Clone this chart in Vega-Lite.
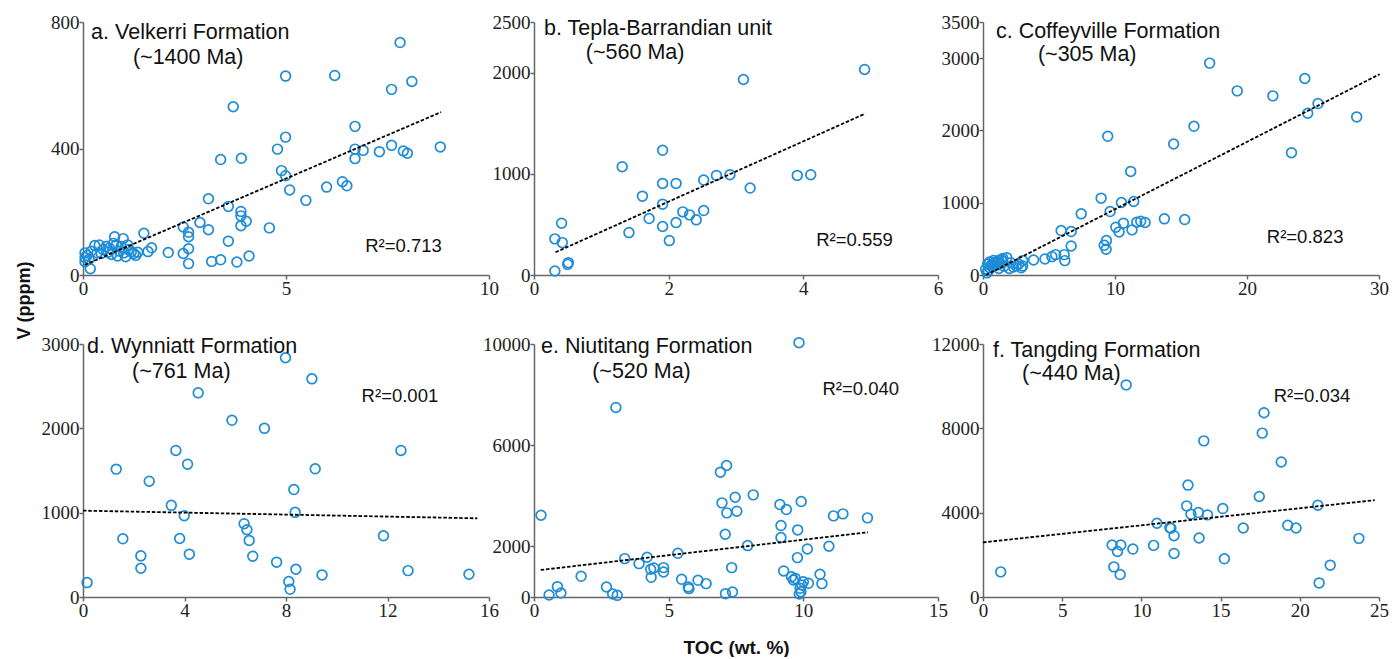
{
  "$schema": "https://vega.github.io/schema/vega-lite/v6.json",
  "padding": {"left": 15, "top": 13, "right": 0, "bottom": 0},
  "background": "white",
  "datasets": {
    "a": [
      {"TOC":7.81,"V":735},{"TOC":4.99,"V":629},{"TOC":6.2,"V":631},{"TOC":7.6,"V":587},{"TOC":8.1,"V":612},{"TOC":3.7,"V":532},{"TOC":6.7,"V":470},{"TOC":4.99,"V":436},{"TOC":4.79,"V":398},{"TOC":3.39,"V":365},{"TOC":3.9,"V":369},{"TOC":6.7,"V":398},{"TOC":6.9,"V":394},{"TOC":7.3,"V":390},{"TOC":7.6,"V":410},{"TOC":7.89,"V":392},{"TOC":7.99,"V":385},{"TOC":8.8,"V":405},{"TOC":6.7,"V":368},{"TOC":4.89,"V":330},{"TOC":4.99,"V":314},{"TOC":5.09,"V":269},{"TOC":6.0,"V":278},{"TOC":6.39,"V":295},{"TOC":6.5,"V":282},{"TOC":5.49,"V":236},{"TOC":3.09,"V":241},{"TOC":3.58,"V":217},{"TOC":3.89,"V":201},{"TOC":3.89,"V":187},{"TOC":4.02,"V":170},{"TOC":3.89,"V":156},{"TOC":2.88,"V":166},{"TOC":2.47,"V":152},{"TOC":3.09,"V":143},{"TOC":2.6,"V":135},{"TOC":2.6,"V":121},{"TOC":4.59,"V":149},{"TOC":3.58,"V":107},{"TOC":2.6,"V":83},{"TOC":2.47,"V":68},{"TOC":2.6,"V":36},{"TOC":3.17,"V":43},{"TOC":3.39,"V":48},{"TOC":3.79,"V":41},{"TOC":4.09,"V":60},{"TOC":2.1,"V":71},{"TOC":1.5,"V":132},{"TOC":1.69,"V":86},
      {"TOC":0.78,"V":121},{"TOC":0.99,"V":115},{"TOC":0.18,"V":20},{"TOC":0.29,"V":93},{"TOC":0.05,"V":70},{"TOC":0.05,"V":55},{"TOC":0.05,"V":42},{"TOC":0.1,"V":62},{"TOC":0.15,"V":50},{"TOC":0.2,"V":75},{"TOC":0.35,"V":70},{"TOC":0.45,"V":68},{"TOC":0.5,"V":80},{"TOC":0.57,"V":90},{"TOC":0.62,"V":72},{"TOC":0.7,"V":65},{"TOC":0.75,"V":100},{"TOC":0.82,"V":95},{"TOC":0.85,"V":60},{"TOC":0.9,"V":75},{"TOC":0.94,"V":90},{"TOC":1.0,"V":70},{"TOC":1.05,"V":58},{"TOC":1.12,"V":80},{"TOC":1.19,"V":74},{"TOC":1.25,"V":68},{"TOC":1.3,"V":62},{"TOC":1.35,"V":72},{"TOC":0.4,"V":95},{"TOC":0.65,"V":85},{"TOC":1.1,"V":95},{"TOC":1.6,"V":74}
    ],
    "fa": [{"TOC":0.04,"V":32},{"TOC":8.82,"V":515}],
    "b": [
      {"TOC":4.91,"V":2031},{"TOC":3.11,"V":1932},{"TOC":1.91,"V":1232},{"TOC":1.31,"V":1070},{"TOC":1.91,"V":905},{"TOC":2.11,"V":905},{"TOC":2.52,"V":938},{"TOC":2.71,"V":984},{"TOC":2.91,"V":991},{"TOC":3.91,"V":984},{"TOC":4.11,"V":991},{"TOC":3.21,"V":859},{"TOC":1.61,"V":779},{"TOC":1.91,"V":700},{"TOC":2.21,"V":624},{"TOC":2.31,"V":594},{"TOC":2.41,"V":545},{"TOC":2.52,"V":637},{"TOC":1.71,"V":558},{"TOC":2.11,"V":518},{"TOC":1.91,"V":479},{"TOC":1.41,"V":419},{"TOC":2.01,"V":340},{"TOC":0.41,"V":512},{"TOC":0.31,"V":357},{"TOC":0.42,"V":320},{"TOC":0.51,"V":122},{"TOC":0.5,"V":105},{"TOC":0.31,"V":40}
    ],
    "fb": [{"TOC":0.32,"V":225},{"TOC":4.92,"V":1595}],
    "c": [
      {"TOC":17.17,"V":2931},{"TOC":24.38,"V":2718},{"TOC":19.26,"V":2547},{"TOC":21.96,"V":2478},{"TOC":25.38,"V":2372},{"TOC":24.6,"V":2238},{"TOC":28.31,"V":2187},{"TOC":15.98,"V":2057},{"TOC":9.45,"V":1919},{"TOC":14.44,"V":1812},{"TOC":23.37,"V":1692},{"TOC":11.19,"V":1433},{"TOC":8.95,"V":1063},{"TOC":10.49,"V":1003},{"TOC":11.42,"V":1017},{"TOC":7.44,"V":846},{"TOC":9.63,"V":878},{"TOC":13.74,"V":777},{"TOC":15.28,"V":767},{"TOC":11.95,"V":744},{"TOC":12.28,"V":726},{"TOC":11.65,"V":730},{"TOC":10.64,"V":717},{"TOC":10.06,"V":661},{"TOC":10.31,"V":596},{"TOC":11.29,"V":624},{"TOC":5.92,"V":615},{"TOC":6.68,"V":601},{"TOC":6.68,"V":402},{"TOC":9.35,"V":476},{"TOC":9.18,"V":411},{"TOC":9.33,"V":356},{"TOC":6.15,"V":282},{"TOC":6.2,"V":199},{"TOC":5.5,"V":282},{"TOC":5.22,"V":254},{"TOC":4.69,"V":222},{"TOC":3.83,"V":208},{"TOC":3.0,"V":199},{"TOC":3.0,"V":125},
      {"TOC":0.3,"V":30},{"TOC":0.4,"V":60},{"TOC":0.5,"V":100},{"TOC":0.6,"V":130},{"TOC":0.7,"V":150},{"TOC":0.8,"V":120},{"TOC":0.9,"V":170},{"TOC":1.0,"V":180},{"TOC":1.1,"V":140},{"TOC":1.2,"V":200},{"TOC":1.3,"V":160},{"TOC":1.4,"V":210},{"TOC":1.5,"V":190},{"TOC":1.6,"V":120},{"TOC":1.8,"V":240},{"TOC":2.0,"V":90},{"TOC":2.1,"V":170},{"TOC":2.3,"V":110},{"TOC":2.5,"V":130},{"TOC":2.7,"V":150},{"TOC":2.9,"V":100},{"TOC":0.5,"V":180},{"TOC":0.8,"V":200},{"TOC":1.2,"V":90},{"TOC":0.35,"V":149},{"TOC":0.2,"V":80},{"TOC":1.5,"V":230}
    ],
    "fc": [{"TOC":0.23,"V":0},{"TOC":30.05,"V":2778}],
    "d": [
      {"TOC":7.98,"V":2837},{"TOC":9.02,"V":2587},{"TOC":4.54,"V":2421},{"TOC":5.87,"V":2095},{"TOC":7.15,"V":2000},{"TOC":3.66,"V":1738},{"TOC":12.53,"V":1738},{"TOC":1.31,"V":1516},{"TOC":9.15,"V":1520},{"TOC":4.12,"V":1575},{"TOC":2.61,"V":1373},{"TOC":8.31,"V":1274},{"TOC":3.48,"V":1087},{"TOC":8.36,"V":1004},{"TOC":3.99,"V":964},{"TOC":6.35,"V":869},{"TOC":6.46,"V":798},{"TOC":6.55,"V":671},{"TOC":1.57,"V":690},{"TOC":3.81,"V":694},{"TOC":11.84,"V":726},{"TOC":2.28,"V":488},{"TOC":4.19,"V":508},{"TOC":6.69,"V":484},{"TOC":7.63,"V":413},{"TOC":2.28,"V":341},{"TOC":8.39,"V":329},{"TOC":12.81,"V":313},{"TOC":9.42,"V":262},{"TOC":15.21,"V":270},{"TOC":8.11,"V":183},{"TOC":8.16,"V":91},{"TOC":0.16,"V":171}
    ],
    "fd": [{"TOC":0,"V":1024},{"TOC":15.54,"V":933}],
    "e": [
      {"TOC":9.84,"V":10053},{"TOC":3.04,"V":7493},{"TOC":7.15,"V":5198},{"TOC":6.92,"V":4934},{"TOC":8.14,"V":4037},{"TOC":7.47,"V":3945},{"TOC":6.98,"V":3720},{"TOC":9.92,"V":3773},{"TOC":9.13,"V":3654},{"TOC":9.37,"V":3456},{"TOC":7.53,"V":3391},{"TOC":7.16,"V":3325},{"TOC":11.47,"V":3285},{"TOC":11.12,"V":3206},{"TOC":0.26,"V":3232},{"TOC":12.38,"V":3127},{"TOC":9.17,"V":2823},{"TOC":9.79,"V":2652},{"TOC":7.1,"V":2480},{"TOC":9.17,"V":2348},{"TOC":7.93,"V":2032},{"TOC":10.95,"V":2005},{"TOC":10.15,"V":1900},{"TOC":5.34,"V":1728},{"TOC":3.37,"V":1517},{"TOC":4.2,"V":1570},{"TOC":9.78,"V":1557},{"TOC":3.9,"V":1319},{"TOC":4.33,"V":1095},{"TOC":4.45,"V":1148},{"TOC":4.81,"V":1161},{"TOC":4.81,"V":989},{"TOC":4.35,"V":778},{"TOC":7.34,"V":1161},{"TOC":9.27,"V":1029},{"TOC":1.75,"V":818},{"TOC":5.48,"V":699},{"TOC":6.09,"V":660},{"TOC":6.39,"V":528},{"TOC":5.73,"V":396},{"TOC":5.75,"V":330},{"TOC":2.69,"V":396},{"TOC":0.87,"V":409},{"TOC":1.0,"V":158},{"TOC":0.56,"V":79},{"TOC":2.92,"V":119},{"TOC":3.09,"V":66},{"TOC":7.11,"V":132},{"TOC":7.37,"V":198},{"TOC":10.62,"V":897},{"TOC":10.69,"V":528},{"TOC":9.56,"V":800},{"TOC":9.63,"V":672},{"TOC":9.7,"V":735},{"TOC":9.94,"V":474},{"TOC":10.0,"V":605},{"TOC":9.88,"V":344},{"TOC":9.91,"V":209},{"TOC":10.19,"V":541},{"TOC":9.85,"V":120}
    ],
    "fe": [{"TOC":0.25,"V":1069},{"TOC":12.4,"V":2559}],
    "f": [
      {"TOC":9.04,"V":10060},{"TOC":17.74,"V":8741},{"TOC":17.63,"V":7772},{"TOC":13.94,"V":7406},{"TOC":18.83,"V":6405},{"TOC":12.94,"V":5308},{"TOC":17.44,"V":4768},{"TOC":12.86,"V":4323},{"TOC":21.14,"V":4355},{"TOC":15.14,"V":4196},{"TOC":13.6,"V":4005},{"TOC":14.17,"V":3894},{"TOC":13.13,"V":3926},{"TOC":10.98,"V":3497},{"TOC":11.8,"V":3290},{"TOC":11.86,"V":3258},{"TOC":12.06,"V":2908},{"TOC":16.43,"V":3274},{"TOC":19.24,"V":3401},{"TOC":19.76,"V":3274},{"TOC":13.64,"V":2797},{"TOC":23.73,"V":2781},{"TOC":8.15,"V":2463},{"TOC":8.7,"V":2463},{"TOC":8.49,"V":2161},{"TOC":9.46,"V":2273},{"TOC":10.77,"V":2448},{"TOC":12.06,"V":2066},{"TOC":15.24,"V":1812},{"TOC":8.26,"V":1430},{"TOC":8.66,"V":1065},{"TOC":21.92,"V":1510},{"TOC":21.22,"V":668},{"TOC":1.12,"V":1192}
    ],
    "ff": [{"TOC":0,"V":2591},{"TOC":24.73,"V":4593}]
  },
  "columns": 3,
  "spacing": {"row": 69, "column": 45},
  "bounds": "flush",
  "concat": [
    {
      "width": 406, "height": 253,
      "layer": [
        {"data": {"name": "a"}, "mark": {"type": "point", "shape": "circle", "filled": false, "size": 95, "strokeWidth": 1.7, "color": "#1e8cd6", "opacity": 1},
         "encoding": {
           "x": {"field": "TOC", "type": "quantitative", "scale": {"domain": [0, 10], "nice": false}, "axis": {"values": [0, 5, 10], "title": null}},
           "y": {"field": "V", "type": "quantitative", "scale": {"domain": [0, 800], "nice": false}, "axis": {"values": [0, 400, 800], "title": null}}}},
        {"data": {"name": "fa"}, "mark": {"type": "line", "color": "#000", "strokeDash": [3.5, 1.8], "strokeWidth": 1.8},
         "encoding": {"x": {"field": "TOC", "type": "quantitative"}, "y": {"field": "V", "type": "quantitative"}}},
        {"data": {"values": [{}]}, "mark": {"type": "text", "text": "a. Velkerri Formation", "align": "left", "baseline": "middle"}, "encoding": {"x": {"datum": 0.2}, "y": {"datum": 766}}},
        {"data": {"values": [{}]}, "mark": {"type": "text", "text": "(~1400 Ma)", "align": "left", "baseline": "middle"}, "encoding": {"x": {"datum": 1.23}, "y": {"datum": 687}}},
        {"data": {"values": [{}]}, "mark": {"type": "text", "text": "R²=0.713", "align": "left", "baseline": "middle", "fontSize": 18.5}, "encoding": {"x": {"datum": 6.95}, "y": {"datum": 92}}}
      ]
    },
    {
      "width": 404, "height": 253,
      "layer": [
        {"data": {"name": "b"}, "mark": {"type": "point", "shape": "circle", "filled": false, "size": 95, "strokeWidth": 1.7, "color": "#1e8cd6", "opacity": 1},
         "encoding": {
           "x": {"field": "TOC", "type": "quantitative", "scale": {"domain": [0, 6], "nice": false}, "axis": {"values": [0, 2, 4, 6], "title": null}},
           "y": {"field": "V", "type": "quantitative", "scale": {"domain": [0, 2500], "nice": false}, "axis": {"values": [0, 1000, 2000, 2500], "title": null}}}},
        {"data": {"name": "fb"}, "mark": {"type": "line", "color": "#000", "strokeDash": [3.5, 1.8], "strokeWidth": 1.8},
         "encoding": {"x": {"field": "TOC", "type": "quantitative"}, "y": {"field": "V", "type": "quantitative"}}},
        {"data": {"values": [{}]}, "mark": {"type": "text", "text": "b. Tepla-Barrandian unit", "align": "left", "baseline": "middle"}, "encoding": {"x": {"datum": 0.15}, "y": {"datum": 2431}}},
        {"data": {"values": [{}]}, "mark": {"type": "text", "text": "(~560 Ma)", "align": "left", "baseline": "middle"}, "encoding": {"x": {"datum": 0.77}, "y": {"datum": 2194}}},
        {"data": {"values": [{}]}, "mark": {"type": "text", "text": "R²=0.559", "align": "left", "baseline": "middle", "fontSize": 18.5}, "encoding": {"x": {"datum": 4.19}, "y": {"datum": 346}}}
      ]
    },
    {
      "width": 396, "height": 253,
      "layer": [
        {"data": {"name": "c"}, "mark": {"type": "point", "shape": "circle", "filled": false, "size": 95, "strokeWidth": 1.7, "color": "#1e8cd6", "opacity": 1},
         "encoding": {
           "x": {"field": "TOC", "type": "quantitative", "scale": {"domain": [0, 30], "nice": false}, "axis": {"values": [0, 10, 20, 30], "title": null}},
           "y": {"field": "V", "type": "quantitative", "scale": {"domain": [0, 3500], "nice": false}, "axis": {"values": [0, 1000, 2000, 3000, 3500], "title": null}}}},
        {"data": {"name": "fc"}, "mark": {"type": "line", "color": "#000", "strokeDash": [3.5, 1.8], "strokeWidth": 1.8},
         "encoding": {"x": {"field": "TOC", "type": "quantitative"}, "y": {"field": "V", "type": "quantitative"}}},
        {"data": {"values": [{}]}, "mark": {"type": "text", "text": "c. Coffeyville Formation", "align": "left", "baseline": "middle"}, "encoding": {"x": {"datum": 0.98}, "y": {"datum": 3361}}},
        {"data": {"values": [{}]}, "mark": {"type": "text", "text": "(~305 Ma)", "align": "left", "baseline": "middle"}, "encoding": {"x": {"datum": 4.16}, "y": {"datum": 3042}}},
        {"data": {"values": [{}]}, "mark": {"type": "text", "text": "R²=0.823", "align": "left", "baseline": "middle", "fontSize": 18.5}, "encoding": {"x": {"datum": 21.5}, "y": {"datum": 528}}}
      ]
    },
    {
      "width": 406, "height": 253,
      "layer": [
        {"data": {"name": "d"}, "mark": {"type": "point", "shape": "circle", "filled": false, "size": 95, "strokeWidth": 1.7, "color": "#1e8cd6", "opacity": 1},
         "encoding": {
           "x": {"field": "TOC", "type": "quantitative", "scale": {"domain": [0, 16], "nice": false}, "axis": {"values": [0, 4, 8, 12, 16], "title": null}},
           "y": {"field": "V", "type": "quantitative", "scale": {"domain": [0, 3000], "nice": false}, "axis": {"values": [0, 1000, 2000, 3000], "title": "V  (pppm)", "titleFont": "Liberation Sans", "titleFontSize": 18, "titleFontWeight": "bold", "titleColor": "#111", "titleX": -50, "titleY": -44}}}},
        {"data": {"name": "fd"}, "mark": {"type": "line", "color": "#000", "strokeDash": [3.5, 1.8], "strokeWidth": 1.8},
         "encoding": {"x": {"field": "TOC", "type": "quantitative"}, "y": {"field": "V", "type": "quantitative"}}},
        {"data": {"values": [{}]}, "mark": {"type": "text", "text": "d. Wynniatt Formation", "align": "left", "baseline": "middle"}, "encoding": {"x": {"datum": 0.16}, "y": {"datum": 2964}}},
        {"data": {"values": [{}]}, "mark": {"type": "text", "text": "(~761 Ma)", "align": "left", "baseline": "middle"}, "encoding": {"x": {"datum": 1.93}, "y": {"datum": 2667}}},
        {"data": {"values": [{}]}, "mark": {"type": "text", "text": "R²=0.001", "align": "left", "baseline": "middle", "fontSize": 18.5}, "encoding": {"x": {"datum": 10.98}, "y": {"datum": 2381}}}
      ]
    },
    {
      "width": 404, "height": 253,
      "layer": [
        {"data": {"name": "e"}, "mark": {"type": "point", "shape": "circle", "filled": false, "size": 95, "strokeWidth": 1.7, "color": "#1e8cd6", "opacity": 1},
         "encoding": {
           "x": {"field": "TOC", "type": "quantitative", "scale": {"domain": [0, 15], "nice": false}, "axis": {"values": [0, 5, 10, 15], "title": "TOC (wt. %)", "titleFont": "Liberation Sans", "titleFontSize": 19, "titleFontWeight": "bold", "titleColor": "#111", "titleY": 41, "titleBaseline": "top"}},
           "y": {"field": "V", "type": "quantitative", "scale": {"domain": [0, 10000], "nice": false}, "axis": {"values": [0, 2000, 6000, 10000], "title": null}}}},
        {"data": {"name": "fe"}, "mark": {"type": "line", "color": "#000", "strokeDash": [3.5, 1.8], "strokeWidth": 1.8},
         "encoding": {"x": {"field": "TOC", "type": "quantitative"}, "y": {"field": "V", "type": "quantitative"}}},
        {"data": {"values": [{}]}, "mark": {"type": "text", "text": "e. Niutitang Formation", "align": "left", "baseline": "middle"}, "encoding": {"x": {"datum": 0.26}, "y": {"datum": 9881}}},
        {"data": {"values": [{}]}, "mark": {"type": "text", "text": "(~520 Ma)", "align": "left", "baseline": "middle"}, "encoding": {"x": {"datum": 2.16}, "y": {"datum": 8893}}},
        {"data": {"values": [{}]}, "mark": {"type": "text", "text": "R²=0.040", "align": "left", "baseline": "middle", "fontSize": 18.5}, "encoding": {"x": {"datum": 10.71}, "y": {"datum": 8221}}}
      ]
    },
    {
      "width": 396, "height": 253,
      "layer": [
        {"data": {"name": "f"}, "mark": {"type": "point", "shape": "circle", "filled": false, "size": 95, "strokeWidth": 1.7, "color": "#1e8cd6", "opacity": 1},
         "encoding": {
           "x": {"field": "TOC", "type": "quantitative", "scale": {"domain": [0, 25], "nice": false}, "axis": {"values": [0, 5, 10, 15, 20, 25], "title": null}},
           "y": {"field": "V", "type": "quantitative", "scale": {"domain": [0, 12000], "nice": false}, "axis": {"values": [0, 4000, 8000, 12000], "title": null}}}},
        {"data": {"name": "ff"}, "mark": {"type": "line", "color": "#000", "strokeDash": [3.5, 1.8], "strokeWidth": 1.8},
         "encoding": {"x": {"field": "TOC", "type": "quantitative"}, "y": {"field": "V", "type": "quantitative"}}},
        {"data": {"values": [{}]}, "mark": {"type": "text", "text": "f. Tangding Formation", "align": "left", "baseline": "middle"}, "encoding": {"x": {"datum": 0.63}, "y": {"datum": 11667}}},
        {"data": {"values": [{}]}, "mark": {"type": "text", "text": "(~440 Ma)", "align": "left", "baseline": "middle"}, "encoding": {"x": {"datum": 2.47}, "y": {"datum": 10571}}},
        {"data": {"values": [{}]}, "mark": {"type": "text", "text": "R²=0.034", "align": "left", "baseline": "middle", "fontSize": 18.5}, "encoding": {"x": {"datum": 18.35}, "y": {"datum": 9524}}}
      ]
    }
  ],
  "config": {
    "view": {"stroke": null},
    "axis": {"grid": false, "labelFont": "Liberation Serif", "labelFontSize": 19, "labelColor": "#222", "domainColor": "#666", "domainWidth": 1.5, "tickColor": "#666", "tickWidth": 1.5, "tickSize": 4, "labelPadding": 0, "labelFlush": false, "labelOverlap": false, "format": "d"},
    "text": {"font": "Liberation Sans", "fontSize": 21.5, "color": "#111"}
  }
}
